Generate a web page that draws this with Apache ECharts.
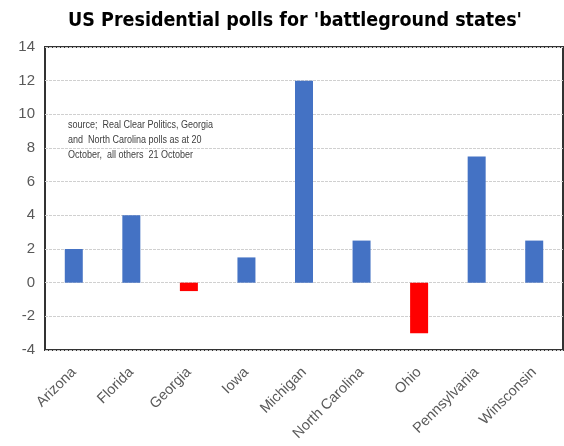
<!DOCTYPE html>
<html>
<head>
<meta charset="utf-8">
<script src="https://cdn.jsdelivr.net/npm/echarts@6/dist/echarts.min.js"></script>
<style>
    html, body { margin: 0; padding: 0; background: #fff; }
    #chart { width: 564px; height: 446px; }
</style>
</head>
<body>
<div id="chart"></div>
<script>
// 各州名称
let states = ['Arizona', 'Florida', 'Georgia', 'Iowa', 'Michigan', 'North Carolina', 'Ohio', 'Pennsylvania', 'Winsconsin'];
// 民调差值
let margins = [2, 4, -0.5, 1.5, 12, 2.5, -3, 7.5, 2.5];
// y轴刻度
let yTicks = [-4, -2, 0, 2, 4, 6, 8, 10, 12, 14];

let sourceNote = 'source;  Real Clear Politics, Georgia\nand  North Carolina polls as at 20\nOctober,  all others  21 October';

let narrow = "'Liberation Sans Narrow', 'DejaVu Sans Condensed', 'Liberation Sans', sans-serif";

var myChart = echarts.init(document.getElementById('chart'));

option = {
    backgroundColor: '#fff',
    animation: false,
    title: {
        text: "US Presidential polls for 'battleground states'",
        left: 290,
        textAlign: 'center',
        top: 6,
        textStyle: {
            fontFamily: narrow,
            fontWeight: 'bold',
            fontSize: 19.5,
            color: '#000'
        }
    },
    grid: {
        left: 45,
        right: 1,
        top: 47,
        bottom: 96,
        show: true,
        borderColor: '#333',
        borderWidth: 2,
        containLabel: false
    },
    xAxis: {
        type: 'category',
        data: states,
        axisLine: { show: false, onZero: false },
        axisTick: { show: false },
        axisLabel: {
            rotate: 45,
            interval: 0,
            margin: 20,
            color: '#595959',
            fontFamily: 'Liberation Sans',
            fontSize: 14.5
        }
    },
    yAxis: {
        type: 'value',
        min: yTicks[0],
        max: yTicks[yTicks.length - 1],
        interval: 2,
        axisLine: { show: false },
        axisTick: { show: false },
        axisLabel: {
            margin: 10,
            color: '#595959',
            fontFamily: 'Liberation Sans',
            fontSize: 15
        },
        splitLine: {
            lineStyle: { color: '#d0d0d0', type: [3, 1], width: 1 }
        }
    },
    graphic: [{
        type: 'group',
        left: 57,
        top: 110,
        children: [{
            type: 'rect',
            shape: { x: 0, y: 0, width: 210, height: 56 },
            style: { fill: '#fff' }
        }, {
            type: 'text',
            x: 11,
            y: 8,
            scaleX: 0.9,
            style: {
                text: sourceNote,
                fontFamily: 'Liberation Sans',
                fontSize: 10,
                lineHeight: 15,
                fill: '#404040'
            }
        }]
    }],
    series: [{
        type: 'bar',
        data: margins,
        barWidth: 18,
        itemStyle: {
            color: function (p) {
                return p.value < 0 ? '#FF0000' : '#4472C4';
            }
        }
    }]
};

myChart.setOption(option);
</script>
</body>
</html>
